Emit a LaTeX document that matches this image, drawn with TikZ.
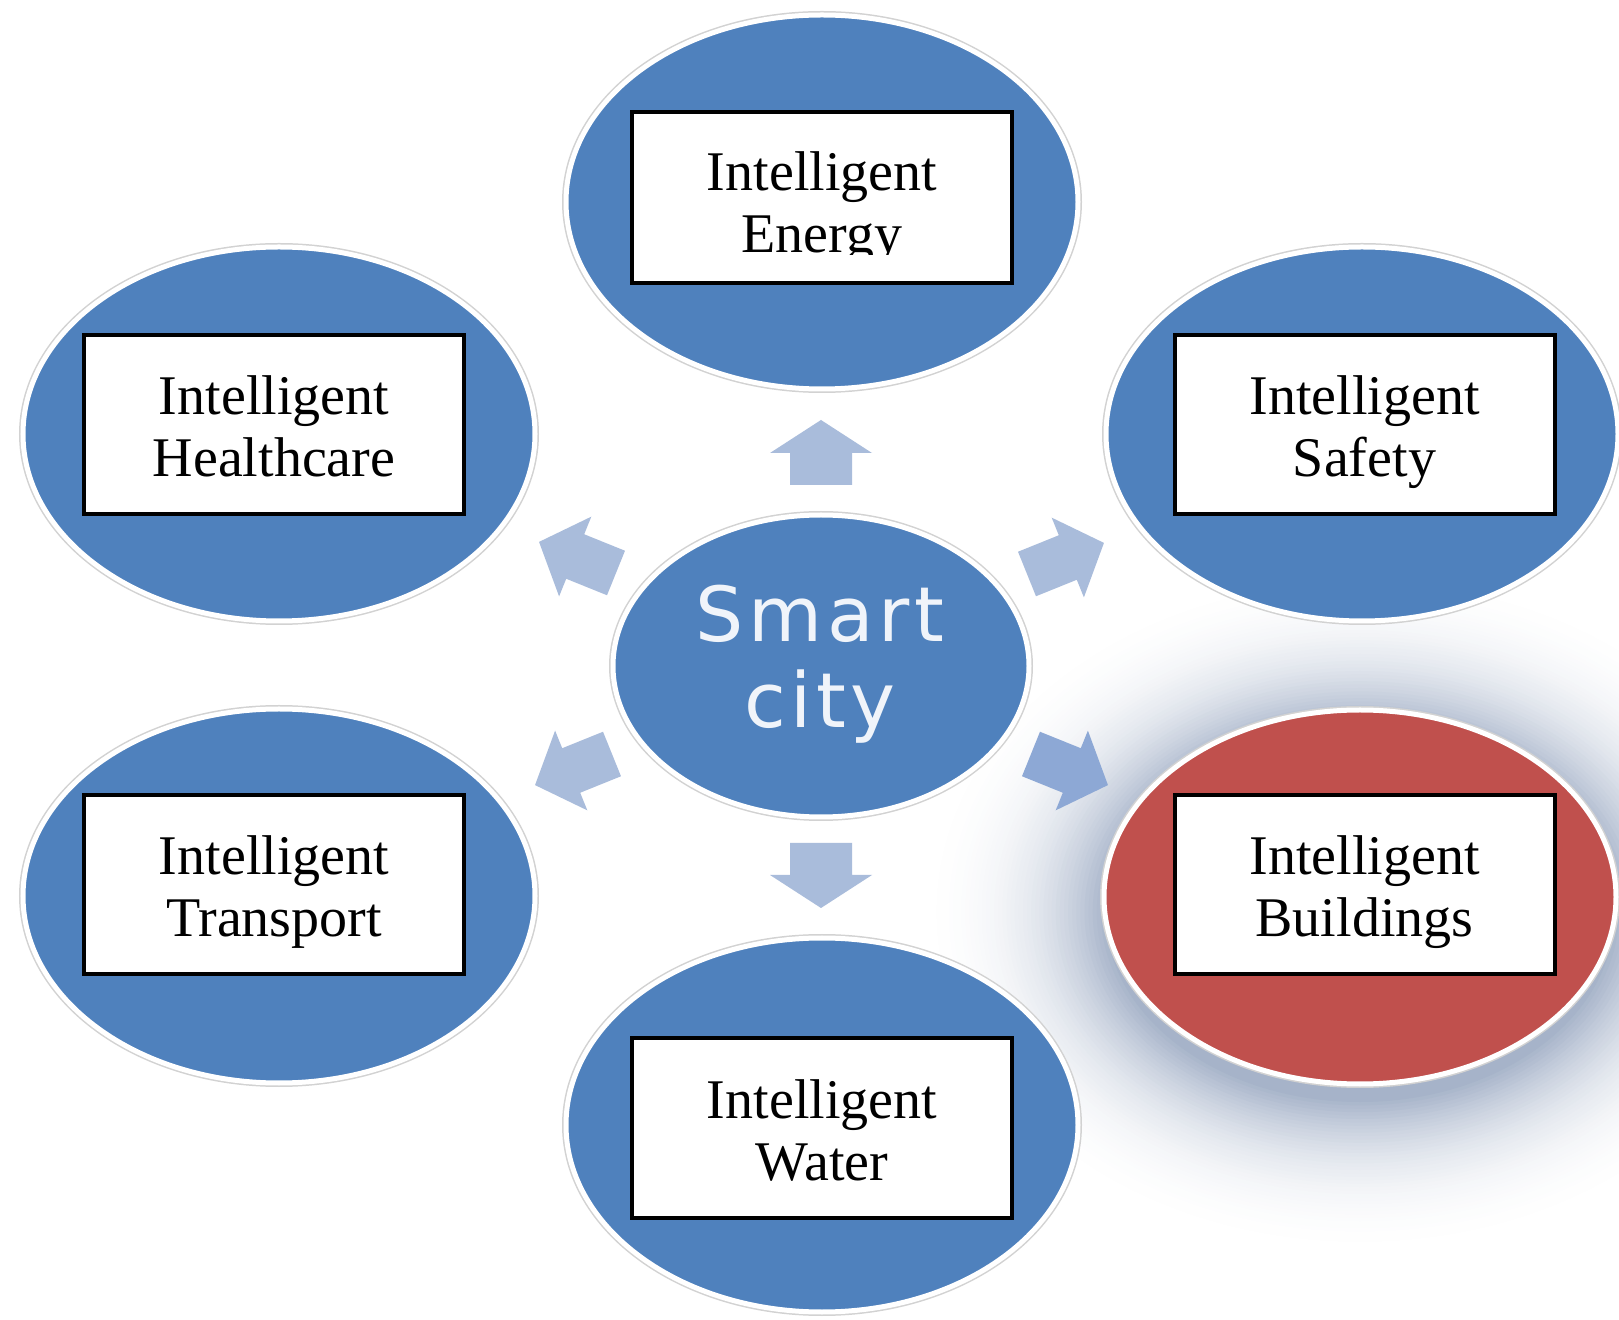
\documentclass[tikz,border=0pt]{standalone}
\usepackage{fontspec}
\setmainfont{Liberation Serif}
\newfontfamily\smartfont[LetterSpace=6]{DejaVu Sans}
\usetikzlibrary{shapes.geometric}
\definecolor{ellblue}{HTML}{4F81BD}
\definecolor{ellred}{HTML}{C0504D}
\definecolor{arrowc}{HTML}{A9BCDB}
\definecolor{arrowd}{HTML}{8DA8D5}
\definecolor{ringgray}{HTML}{D2D2D2}
\definecolor{smarttext}{HTML}{F0F4FA}
\definecolor{shadowc}{HTML}{A6B3C9}
\tikzset{
  x=0.5pt, y=-0.5pt,
  ellnode/.style={ellipse, inner sep=0pt, minimum width=256pt, minimum height=187pt,
    fill=#1, draw=white, line width=2.5pt, preaction={draw=ringgray, line width=4pt}},
  boxnode/.style={rectangle, inner sep=0pt, fill=white, draw=black, line width=2pt,
    minimum width=190pt, minimum height=#1},
  boxtext/.style={anchor=base, inner sep=0pt, font=\fontsize{28pt}{31pt}\selectfont},
  smarttxt/.style={anchor=base, inner sep=0pt, text=smarttext, font=\smartfont\fontsize{38pt}{43pt}\selectfont},
  strarrow/.pic={\path[pic actions] (0,-31) -- (32,-31) -- (32,-51) -- (65,0) -- (32,51) -- (32,31) -- (0,31) -- cycle;},
  diagarrow/.pic={\path[pic actions] (0,-24) -- (44,-24) -- (44,-43) -- (83,0) -- (44,43) -- (44,24) -- (0,24) -- cycle;}
}
\begin{document}
\begin{tikzpicture}
\useasboundingbox (0,0) rectangle (1619,1320);
\clip (0,0) rectangle (1619,1320);
\fill[white] (0,0) rectangle (1619,1320);
% soft shadow behind the highlighted ellipse (stepped gradient)
\foreach \i in {0,...,50} {
  \pgfmathsetmacro\t{\i/50}
  \pgfmathtruncatemacro\p{100*\t^2.6}
  \pgfmathsetmacro\rx{460-205*\t}
  \pgfmathsetmacro\ry{360-170*\t}
  \fill[shadowc!\p!white] (1360,912) ellipse [x radius=\rx, y radius=\ry];
}
% outer ellipses
\node[ellnode=ellblue] (energyE) at (822,202) {};
\node[ellnode=ellblue] (healthE) at (279,434) {};
\node[ellnode=ellblue] (safetyE) at (1362,434) {};
\node[ellnode=ellblue] (transE) at (279,896) {};
\node[ellnode=ellred] (buildE) at (1360,897) {};
\node[ellnode=ellblue] (waterE) at (822,1125) {};
% centre ellipse
\node[ellipse, inner sep=0pt, minimum width=208pt, minimum height=151pt, fill=ellblue,
  draw=white, line width=2.5pt, preaction={draw=ringgray, line width=4pt}] (centre) at (821,666) {};
\node[smarttxt] (smart1) at (820,642) {Smart};
\node[smarttxt] (smart2) at (820,728) {city};
% block arrows
\pic[fill=arrowc, rotate=90] (upA) at (821,485) {strarrow};
\pic[fill=arrowc, rotate=-90] (downA) at (821,843) {strarrow};
\pic[fill=arrowc, rotate=158] (ulA) at (616,573) {diagarrow};
\pic[fill=arrowc, rotate=22] (urA) at (1027,574) {diagarrow};
\pic[fill=arrowc, rotate=202] (llA) at (612,754) {diagarrow};
\pic[fill=arrowd, rotate=-22] (lrA) at (1031,754) {diagarrow};
% boxes
\node[boxnode=85.5pt] (energyB) at (822,197.5) {};
\node[boxnode=89.5pt] (healthB) at (274,424.5) {};
\node[boxnode=89.5pt] (safetyB) at (1364.5,424.5) {};
\node[boxnode=89.5pt] (transB) at (274,884.5) {};
\node[boxnode=89.5pt] (buildB) at (1364.5,884.5) {};
\node[boxnode=90pt] (waterB) at (822,1128) {};
% texts
\node[boxtext] (energyT1) at (822,191) {Intelligent};
\begin{scope}
\clip (634,200) rectangle (1010,255);
\node[boxtext] (energyT2) at (822,253) {Energy};
\end{scope}
\node[boxtext] (healthT1) at (274,415) {Intelligent};
\node[boxtext] (healthT2) at (274,477) {Healthcare};
\node[boxtext] (safetyT1) at (1364.5,415) {Intelligent};
\node[boxtext] (safetyT2) at (1364.5,477) {Safety};
\node[boxtext] (transT1) at (274,875) {Intelligent};
\node[boxtext] (transT2) at (274,937) {Transport};
\node[boxtext] (buildT1) at (1364.5,875) {Intelligent};
\node[boxtext] (buildT2) at (1364.5,937) {Buildings};
\node[boxtext] (waterT1) at (822,1118) {Intelligent};
\node[boxtext] (waterT2) at (822,1180) {Water};
\end{tikzpicture}
\end{document}
